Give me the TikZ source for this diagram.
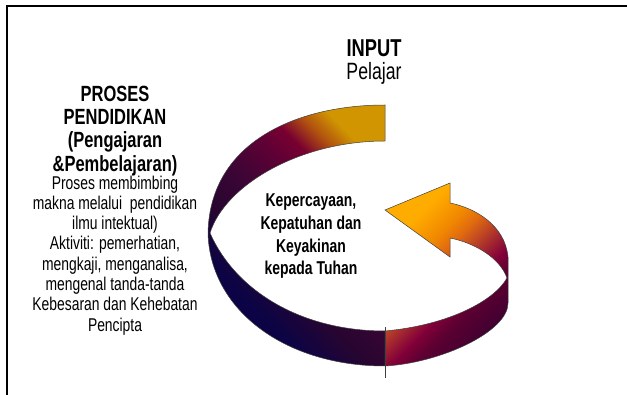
\documentclass[tikz,border=0pt]{standalone}
\usepackage{fontspec}
\setmainfont{Liberation Sans}[FakeStretch=0.75]
\definecolor{lA}{HTML}{0A0048}
\definecolor{lB}{HTML}{0C0445}
\definecolor{lC}{HTML}{280530}
\definecolor{lD}{HTML}{3A0535}
\definecolor{lE}{HTML}{600035}
\definecolor{lF}{HTML}{780030}
\definecolor{lG}{HTML}{B05010}
\definecolor{lH}{HTML}{D09500}
\definecolor{rA}{HTML}{FFAC00}
\definecolor{rB}{HTML}{F28A00}
\definecolor{rC}{HTML}{E06A10}
\definecolor{rD}{HTML}{A52A30}
\definecolor{rE}{HTML}{820038}
\definecolor{rF}{HTML}{5E0032}
\definecolor{rG}{HTML}{3A0030}
\definecolor{edge}{HTML}{404040}
\pgfdeclarehorizontalshading{ringleft}{100bp}{color(0bp)=(lA); color(25bp)=(lA); color(31.5bp)=(lB); color(41bp)=(lC); color(50bp)=(lD); color(60bp)=(lE); color(65bp)=(lF); color(70bp)=(lG); color(75bp)=(lH); color(100bp)=(lH)}
\pgfdeclarehorizontalshading{ringright}{100bp}{color(0bp)=(rA); color(29.5bp)=(rA); color(38.5bp)=(rB); color(44bp)=(rC); color(52.5bp)=(rD); color(58bp)=(rE); color(63bp)=(rF); color(75bp)=(rG); color(100bp)=(rG)}
\tikzset{
  band/.style={draw=edge, line width=0.5pt},
  frameline/.style={draw=black, line width=1.5pt},
  boldtitle/.style={font=\fontsize{22}{25}\selectfont\bfseries, inner sep=0pt, anchor=base},
  bodytext/.style={font=\fontsize{18.5}{21}\selectfont, inner sep=0pt, anchor=base},
  centertext/.style={font=\fontsize{18.6}{23}\selectfont\bfseries, inner sep=0pt, anchor=base},
}
\begin{document}
\begin{tikzpicture}[x=1pt, y=-1pt]
\useasboundingbox (0,0) rectangle (627,395);
% frame (top and left edges)
\coordinate (fr) at (627,6);
\coordinate (fc) at (7,6);
\coordinate (fb) at (7,395);
\draw[frameline] (fr) -- (fc) -- (fb);
% left half of the ring
\shade[band, shading=ringleft, shading angle=45]
  (385,105) .. controls (300,105) and (210,140) .. (208,233)
  .. controls (210,310) and (285,366) .. (385,366)
  -- (385,331)
  .. controls (300,331) and (235,290) .. (210,233)
  .. controls (225,185) and (300,141) .. (385,141)
  -- cycle;
% right half of the ring with arrow head
\shade[band, shading=ringright, shading angle=-45]
  (385,366) .. controls (440,363) and (508,332) .. (508,303)
  -- (508,257)
  .. controls (505,225) and (475,208) .. (450,203)
  -- (450,183) -- (385,210) -- (450,257) -- (450,238)
  .. controls (475,243) and (500,258) .. (507,278)
  .. controls (495,300) and (450,325) .. (385,331)
  -- cycle;
% separator line
\coordinate (st) at (385,327);
\coordinate (sb) at (385,378);
\draw[edge, line width=0.6pt] (st) -- (sb);
% texts
\node[boldtitle, font=\fontsize{24.4}{28}\selectfont\bfseries] (input) at (374,57) {INPUT};
\node[bodytext, font=\fontsize{23.6}{27}\selectfont] (pelajar) at (374,80) {Pelajar};
\foreach \yy/\txt [count=\i] in {102/{PROSES}, 125/{PENDIDIKAN}, 148/{(Pengajaran}, 172/{\&Pembelajaran)}}
  \node[boldtitle] (pt\i) at (115,\yy) {\txt};
\foreach \yy/\txt [count=\i] in {190/{Proses membimbing}, 210/{makna melalui\ \ pendidikan}, 230/{ilmu intektual)}, 250/{Aktiviti: pemerhatian,}, 271/{mengkaji, menganalisa,}, 291/{mengenal tanda-tanda}, 311/{Kebesaran dan Kehebatan}, 332/{Pencipta}}
  \node[bodytext] (pb\i) at (115,\yy) {\txt};
\foreach \yy/\txt [count=\i] in {207/{Kepercayaan,}, 230/{Kepatuhan dan}, 253/{Keyakinan}, 275/{kepada Tuhan}}
  \node[centertext] (ct\i) at (311,\yy) {\txt};
\end{tikzpicture}
\end{document}
